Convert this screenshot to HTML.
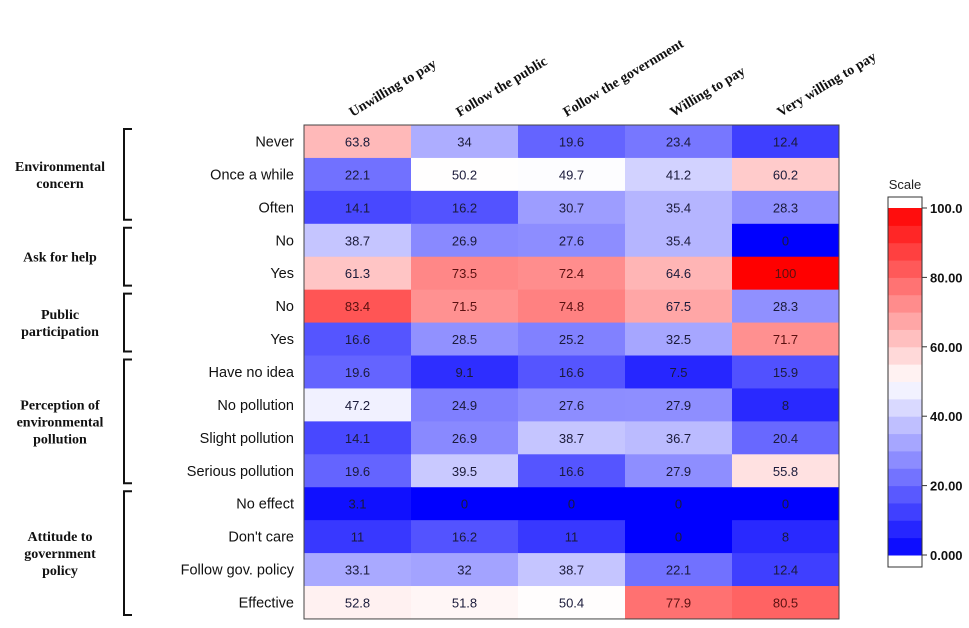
<!DOCTYPE html>
<html><head><meta charset="utf-8"><style>
body{margin:0;background:#fff;width:969px;height:623px;overflow:hidden}
svg text{font-family:"Liberation Sans",sans-serif}
.ser{font-family:"Liberation Serif",serif !important;font-weight:bold}
</style></head><body>
<svg id="c" width="969" height="623"></svg>
<script>
const cols=["Unwilling to pay","Follow the public","Follow the government","Willing to pay","Very willing to pay"];
const rows=["Never","Once a while","Often","No","Yes","No","Yes","Have no idea","No pollution","Slight pollution","Serious pollution","No effect","Don't care","Follow gov. policy","Effective"];
const values=[
[63.8,34,19.6,23.4,12.4],
[22.1,50.2,49.7,41.2,60.2],
[14.1,16.2,30.7,35.4,28.3],
[38.7,26.9,27.6,35.4,0],
[61.3,73.5,72.4,64.6,100],
[83.4,71.5,74.8,67.5,28.3],
[16.6,28.5,25.2,32.5,71.7],
[19.6,9.1,16.6,7.5,15.9],
[47.2,24.9,27.6,27.9,8],
[14.1,26.9,38.7,36.7,20.4],
[19.6,39.5,16.6,27.9,55.8],
[3.1,0,0,0,0],
[11,16.2,11,0,8],
[33.1,32,38.7,22.1,12.4],
[52.8,51.8,50.4,77.9,80.5]];
const groups=[["Environmental","concern"],["Ask for help"],["Public","participation"],["Perception of","environmental","pollution"],["Attitude to","government","policy"]];
const groupRows=[[0,2],[3,4],[5,6],[7,10],[11,14]];
const legendTicks=[0,20,40,60,80,100];
const legendLabels=["0.000","20.00","40.00","60.00","80.00","100.0"];
const svg=document.getElementById('c');const NS='http://www.w3.org/2000/svg';
function mk(t,a,p){const e=document.createElementNS(NS,t);for(const k in a)e.setAttribute(k,a[k]);(p||svg).appendChild(e);return e;}
const X0=304,Y0=125,CW=107,RH=32.93;
const xs=i=>X0+i*CW, ys=j=>Y0+j*RH;
function col(v){let r,g,b;if(v<=50){const t=v/50;r=g=Math.round(255*t);b=255;}else{const t=(v-50)/50;r=255;g=b=Math.round(255*(1-t));}return `rgb(${r},${g},${b})`;}
values.forEach((row,j)=>row.forEach((v,i)=>{
 const r=mk('rect',{x:xs(i),y:ys(j),width:CW+0.5,height:RH+0.5,fill:col(v)});
 
 
 const t=mk('text',{x:xs(i)+CW/2,y:ys(j)+RH/2+5,'text-anchor':'middle','font-size':13,fill:v>70?'#5a1010':'#1a1a3a'});
 t.textContent=v;
 
 
}));
mk('rect',{x:X0,y:Y0,width:CW*5,height:RH*15,fill:'none',stroke:'#444','stroke-width':1});
rows.forEach((r,j)=>{const t=mk('text',{x:294,y:ys(j)+RH/2+5,'text-anchor':'end','font-size':14.5,fill:'#111'});t.textContent=r;
 });
cols.forEach((c,i)=>{const x=xs(i)+CW/2-5,y=117;const t=mk('text',{x:x,y:y,transform:`rotate(-31 ${x} ${y})`,'font-size':14,class:'ser',fill:'#111'});t.textContent=c;
 });
groupRows.forEach((g,k)=>{const y1=ys(g[0])+4,y2=ys(g[1]+1)-4;
 const p=mk('path',{d:`M132 ${y1} H124 V${y2} H132`,fill:'none',stroke:'#111','stroke-width':2});
 
 const lines=groups[k];const cy=(y1+y2)/2;
 lines.forEach((l,m)=>{const t=mk('text',{x:60,y:cy+5+(m-(lines.length-1)/2)*17,'text-anchor':'middle','font-size':14,class:'ser',fill:'#111'});t.textContent=l;
  });
});
// legend
const LX=888,LW=34,Ltop=208,Lbot=555;
const ly=v=>Lbot-(v/100)*(Lbot-Ltop);
mk('rect',{x:LX,y:197,width:LW,height:370,fill:'#fff',stroke:'#333'});
const NB=20;
for(let b=0;b<NB;b++){const v0=b*100/NB,v1=(b+1)*100/NB;const r=mk('rect',{x:LX,y:ly(v1),width:LW,height:ly(v0)-ly(v1)+0.5,fill:col((v0+v1)/2)});
 }
mk('rect',{x:LX,y:197,width:LW,height:370,fill:'none',stroke:'#333'});
legendTicks.forEach((v,i)=>{mk('line',{x1:LX+LW,x2:LX+LW+5,y1:ly(v),y2:ly(v),stroke:'#333'});
 const t=mk('text',{x:LX+LW+8,y:ly(v)+5,'font-size':13,'font-weight':'bold',fill:'#111'});t.textContent=legendLabels[i];
 });
const st=mk('text',{x:905,y:189,'text-anchor':'middle','font-size':13,fill:'#222'});st.textContent='Scale';

</script>
</body></html>
